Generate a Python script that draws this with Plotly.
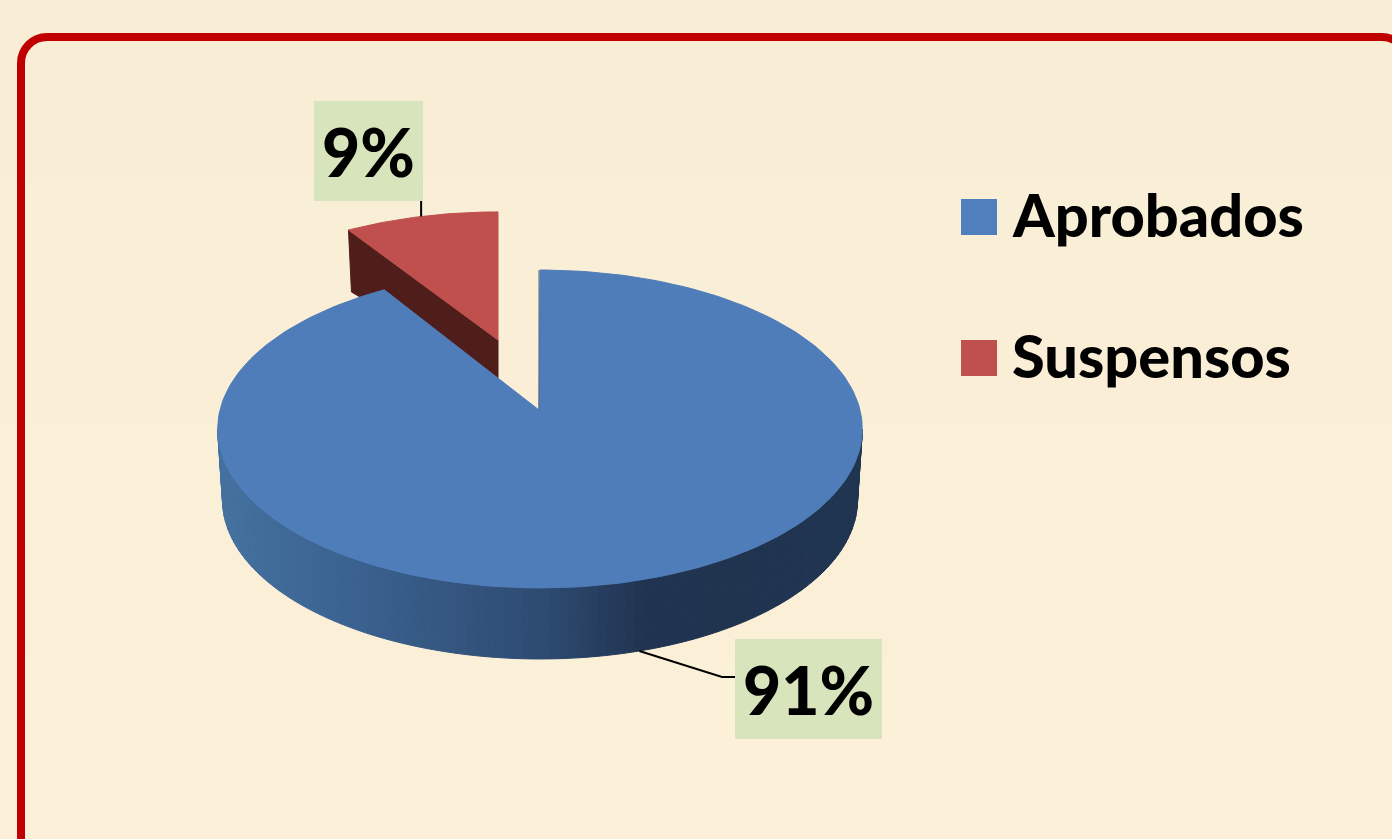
import math
import plotly.graph_objects as go

categories = ["Aprobados", "Suspensos"]
values = [91, 9]
slice_colors = ["#4F7FBC", "#BF504D"]
top_blue = "#4E7DB9"
label_bg = "#D8E4BC"

# drawing geometry of the perspective pie
K = 0.1195
A = 320.0
B = 156.7
CX, CY = 539, 410
ARC_CX = 540
DEPTH = 71
RED_C = (498, 340)
RED_S = (0.96, 0.915)


def rim(deg, cx=ARC_CX, cy=CY, sx=1.0, sy=1.0):
    t = math.radians(deg)
    d = 1 + K * math.cos(t)
    return cx + sx * A * math.sin(t) / d, cy - sy * B * math.cos(t) / d


def low(deg):
    x, y = rim(deg, sx=0.985)
    return x, y + DEPTH


def hex_lerp(stops, x):
    if x <= stops[0][0]:
        return stops[0][1]
    for (x0, c0), (x1, c1) in zip(stops, stops[1:]):
        if x <= x1:
            f = (x - x0) / (x1 - x0)
            rgb = [round(int(c0[i:i+2], 16) * (1 - f) + int(c1[i:i+2], 16) * f) for i in (1, 3, 5)]
            return "#%02X%02X%02X" % tuple(rgb)
    return stops[-1][1]


wall_stops = [(220, "#44719F"), (330, "#3C6493"), (540, "#2E4B72"), (650, "#203350"), (860, "#203551")]

total = sum(values)
end_blue = 360 * values[0] / total
mid_blue = end_blue / 2
mid_red = end_blue + 180 * values[1] / total

fig = go.Figure()
poly = dict(mode="lines", fill="toself", hoverinfo="skip", showlegend=False)

# exploded slice: cut face, then top
red_arc = [rim(end_blue + (360 - end_blue) * i / 40, *RED_C, *RED_S) for i in range(41)]
p0 = red_arc[0]
fig.add_trace(go.Scatter(
    x=[p0[0], RED_C[0], RED_C[0], p0[0] + 3, p0[0]],
    y=[p0[1], RED_C[1], RED_C[1] + 38, p0[1] + 62, p0[1]],
    line=dict(color="#4F1E1A", width=1), fillcolor="#4F1E1A", **poly))
fig.add_trace(go.Scatter(
    x=[RED_C[0]] + [p[0] for p in red_arc] + [RED_C[0]],
    y=[RED_C[1]] + [p[1] for p in red_arc] + [RED_C[1]],
    line=dict(color=slice_colors[1], width=1), fillcolor=slice_colors[1], **poly))

# front wall of the main slice
t0 = math.degrees(math.acos(-K))
t1 = 360 - t0
N = 110
for i in range(N):
    a0 = t0 + (t1 - t0) * i / N
    a1 = t0 + (t1 - t0) * (i + 1) / N
    q = [rim(a0), rim(a1), low(a1), low(a0), rim(a0)]
    col = hex_lerp(wall_stops, (q[0][0] + q[1][0]) / 2)
    fig.add_trace(go.Scatter(x=[p[0] for p in q], y=[p[1] for p in q],
                             line=dict(color=col, width=1), fillcolor=col, **poly))

# top of the main slice
arc = [rim(end_blue * i / 240) for i in range(241)]
fig.add_trace(go.Scatter(
    x=[CX] + [p[0] for p in arc] + [CX],
    y=[CY] + [p[1] for p in arc] + [CY],
    line=dict(color=top_blue, width=1), fillcolor=top_blue, **poly))
fig.add_trace(go.Scatter(x=[CX, CX], y=[CY, rim(0)[1]], mode="lines", hoverinfo="skip", showlegend=False,
                         line=dict(color="#55667A", width=1)))

# leader lines
bx, by = low(mid_blue)
fig.add_trace(go.Scatter(x=[bx, 722, 735], y=[by, 677, 677], mode="lines", hoverinfo="skip", showlegend=False,
                         line=dict(color="black", width=2)))
rx, ry = rim(mid_red, *RED_C, *RED_S)
fig.add_trace(go.Scatter(x=[rx, rx], y=[ry, 201], mode="lines", hoverinfo="skip", showlegend=False,
                         line=dict(color="black", width=2)))

# legend
legend_y = [217, 358]
fig.add_trace(go.Scatter(x=[979, 979], y=legend_y, mode="markers", hoverinfo="skip", showlegend=False,
                         marker=dict(symbol="square", size=36, color=slice_colors, line=dict(width=0))))

shapes = []
top, bottom = (0xF8, 0xED, 0xD5), (0xFC, 0xF0, 0xD8)
for i in range(14):
    f = i / 13
    c = "#%02X%02X%02X" % tuple(round(a * (1 - f) + b * f) for a, b in zip(top, bottom))
    shapes.append(dict(type="rect", layer="below", xref="x", yref="y", x0=0, x1=1392,
                       y0=i * 60, y1=(i + 1) * 60 + 1, fillcolor=c, line=dict(width=0)))
shapes.append(dict(type="path", layer="below", xref="x", yref="y",
                   path="M21,900 L21,63 C21,48.7 32.7,37 47,37 L1382,37 C1396,37 1408,48.7 1408,63 L1408,900",
                   line=dict(color="#C00000", width=8)))

font = dict(family="Lato, Carlito, sans-serif", color="black", weight=900)
annotations = []
for name, y in zip(categories, legend_y):
    annotations.append(dict(x=1010, y=y - 3, xref="x", yref="y", text=name, showarrow=False, xanchor="left",
                            yanchor="middle", font=dict(size=59.5, **font)))
for v, (x, y, w) in zip(values, [(808.5, 689, 147), (368.5, 151, 109)]):
    annotations.append(dict(x=x, y=y, xref="x", yref="y", text=f"{v}%", showarrow=False, width=w, height=100,
                            bgcolor=label_bg, borderpad=0, borderwidth=0, align="center", valign="middle",
                            font=dict(size=66, **font)))

fig.update_layout(
    width=1392, height=839, margin=dict(l=0, r=0, t=0, b=0), autosize=False,
    paper_bgcolor="#FAEED6", plot_bgcolor="rgba(0,0,0,0)", showlegend=False,
    xaxis=dict(range=[0, 1392], visible=False, fixedrange=True),
    yaxis=dict(range=[839, 0], visible=False, fixedrange=True),
    shapes=shapes, annotations=annotations,
)
fig.write_html("out.html", config=dict(displayModeBar=False),
               post_script="document.documentElement.style.overflow='hidden';document.body.style.margin='0';")
